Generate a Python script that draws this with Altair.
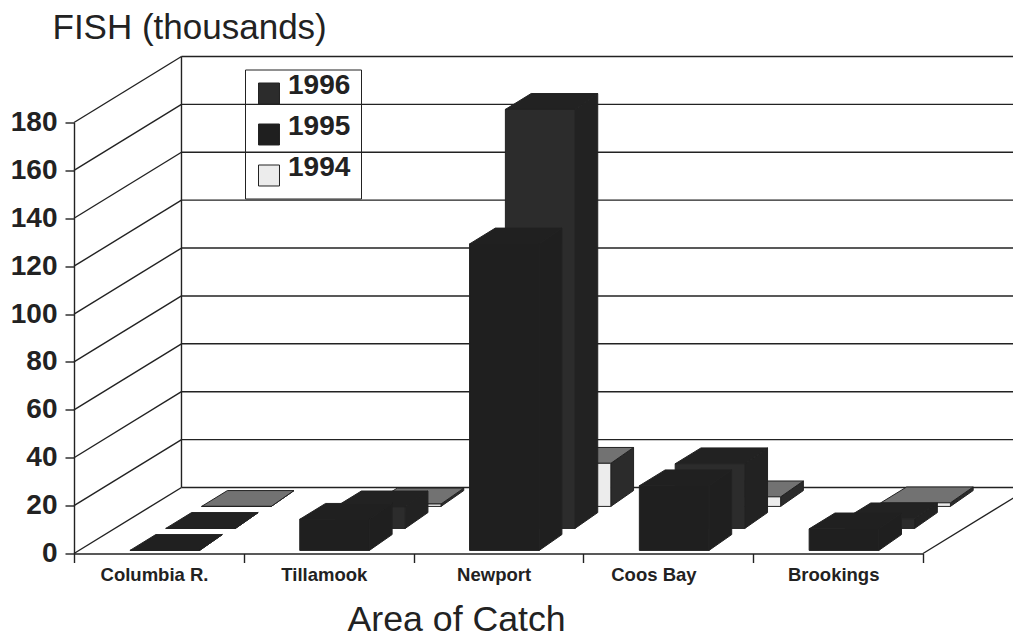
import altair as alt
import pandas as pd

categories = ["Columbia R.", "Tillamook", "Newport", "Coos Bay", "Brookings"]
years = ["1996", "1995", "1994"]
catch_1995 = [0, 13, 128, 27, 9]
catch_1996 = [0, 9, 175, 27, 4]
catch_1994 = [0, 1, 18, 4, 1.5]
grid_values = list(range(0, 200, 20))

# oblique projection constants: shift per depth row, in data units
DX, DY = 0.211, 9.19
ROWS = 3
BAR_START, BAR_W = 0.30, 0.41
GAP = 0.14
TAPER = 0.018

FONT = "Liberation Sans"
INK = "#222222"

rows = [
    ("1994", catch_1994, 2, "#727272", "#2b2b2b"),
    ("1996", catch_1996, 1, "#222222", "#222222"),
    ("1995", catch_1995, 0, "#202020", "#1f1f1f"),
]
fill_scale = alt.Scale(domain=years, range=["#2c2c2c", "#1f1f1f", "#ececec"])
legend = alt.Legend(
    orient="none", legendX=171, legendY=-53, title=None, padding=10,
    symbolType="square", symbolSize=440, symbolStrokeColor=INK, symbolStrokeWidth=1,
    symbolOpacity=1, labelFontSize=28, labelFont=FONT, labelFontWeight="bold",
    labelColor=INK, strokeColor=INK, rowPadding=6, labelOffset=5, labelBaseline="alphabetic",
)

X = alt.Scale(domain=[0, 5], nice=False, zero=False)
Y = alt.Scale(domain=[0, 180], nice=False, zero=False)

x_axis = alt.Axis(
    values=[0, 1, 2, 3, 4, 5],
    labelExpr="['" + "','".join(categories) + "',''][datum.value]",
    labelOffset={"condition": {"test": "datum.value == 3", "value": 70}, "value": 80},
    labelFontSize=18.5, labelFont=FONT, labelFontWeight="bold", labelColor=INK,
    labelPadding=3, tickSize=9, tickColor=INK, domainColor=INK, domainWidth=1.6, tickWidth=1.4,
    grid=False, title="Area of Catch", titleFont=FONT, titleFontSize=35.7, titleFontWeight="normal",
    titleColor=INK, titleX=273, titleY=77, titleAnchor="start", titleAlign="left",
    titleBaseline="alphabetic", labelAngle=0, labelFlush=False, labelOverlap=False,
)
y_axis = alt.Axis(
    values=grid_values, labelFontSize=28, labelFont=FONT, labelFontWeight="bold", labelColor=INK,
    labelPadding=8, tickSize=9, tickColor=INK, domainColor=INK, domainWidth=1.4, tickWidth=1.4,
    grid=False, title="FISH (thousands)", titleFont=FONT, titleFontSize=35, titleFontWeight="normal",
    titleColor=INK, titleAngle=0, titleX=-22, titleY=-84, titleAlign="left", titleBaseline="alphabetic",
)


def xe(field="x"):
    return alt.X(f"{field}:Q", scale=X, axis=x_axis)


def ye(field="y"):
    return alt.Y(f"{field}:Q", scale=Y, axis=y_axis)


# walls and floor
lines = []
for v in grid_values:
    lines += [
        {"id": f"w{v}", "x": ROWS * DX, "y": v + ROWS * DY},
        {"id": f"w{v}", "x": 5 + ROWS * DX, "y": v + ROWS * DY},
        {"id": f"l{v}", "x": 0, "y": v},
        {"id": f"l{v}", "x": ROWS * DX, "y": v + ROWS * DY},
    ]
lines += [
    {"id": "back", "x": ROWS * DX, "y": ROWS * DY},
    {"id": "back", "x": ROWS * DX, "y": 180 + ROWS * DY},
    {"id": "floor", "x": 5, "y": 0},
    {"id": "floor", "x": 5 + ROWS * DX, "y": ROWS * DY},
]
walls = alt.Chart(pd.DataFrame(lines)).mark_line(color=INK, strokeWidth=1.4, clip=False).encode(
    x=xe(), y=ye(), detail="id:N"
)

layers = [walls]

for year, values, row, top_col, side_col in rows:
    d0, d1 = row + GAP, row + 1 - GAP
    fr, side, top = [], [], []
    for i, (cat, v) in enumerate(zip(categories, values)):
        xl = i + BAR_START + d0 * DX
        xr = xl + BAR_W
        b0, b1 = d0 * DY, d1 * DY
        run = (d1 - d0) * DX
        fr.append({"year": year, "x": xl, "x2": xr, "y": b0, "y2": b0 + v})
        side += [
            {"id": cat, "x": xr, "y": b0 + v, "y2": b0},
            {"id": cat, "x": xr + run - TAPER, "y": b1 + v, "y2": b1},
        ]
        top += [
            {"id": cat, "y": b0 + v, "x": xl, "x2": xr},
            {"id": cat, "y": b1 + v, "x": xl + run, "x2": xr + run - TAPER},
        ]
    layers.append(
        alt.Chart(pd.DataFrame(side)).mark_area(
            orient="vertical", color=side_col, stroke=INK, strokeWidth=1, clip=False
        ).encode(x=xe(), y=ye(), y2="y2:Q", detail="id:N")
    )
    layers.append(
        alt.Chart(pd.DataFrame(top)).mark_area(
            orient="horizontal", color=top_col, stroke=INK, strokeWidth=1, clip=False
        ).encode(y=ye(), x=xe(), x2="x2:Q", detail="id:N")
    )
    layers.append(
        alt.Chart(pd.DataFrame(fr)).mark_rect(stroke=INK, strokeWidth=1, clip=False).encode(
            x=xe(), x2="x2:Q", y=ye(), y2="y2:Q",
            fill=alt.Fill("year:N", scale=fill_scale, legend=legend),
        )
    )

chart = (
    alt.layer(*layers)
    .properties(
        width=849, height=431,
        padding={"left": 66, "top": 114.5, "right": 90, "bottom": 87.5},
        autosize=alt.AutoSizeParams(type="none"),
        background="white",
    )
    .configure_view(stroke=None)
)
chart.save("out.html", embed_options={"renderer": "svg", "actions": False})
